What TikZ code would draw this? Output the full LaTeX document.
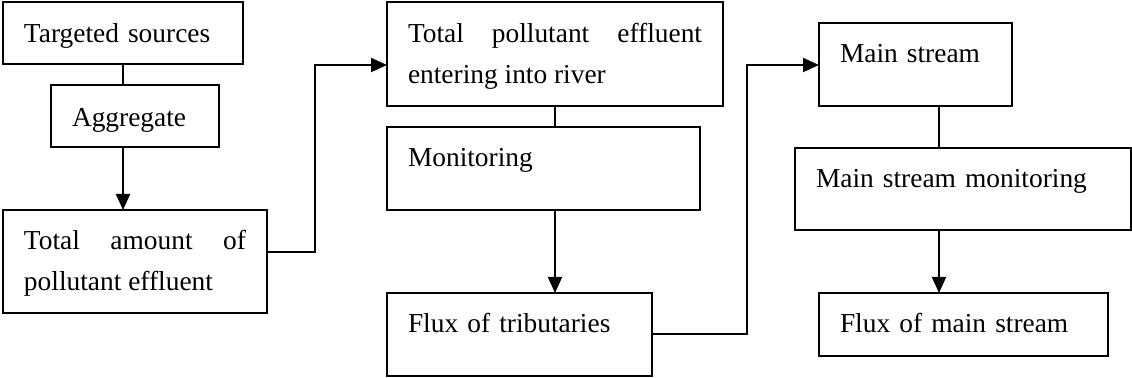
\documentclass[tikz,border=0pt]{standalone}
\usepackage{fontspec}
\setmainfont{Liberation Serif}
\usetikzlibrary{arrows.meta}
\newcommand\boxfont{\fontsize{13.7}{20.5}\selectfont\hyphenpenalty=10000\exhyphenpenalty=10000 }
\tikzset{
  box/.style={draw, line width=1pt, rectangle, anchor=north west, inner xsep=10.5pt, inner ysep=0pt, outer sep=0pt, font=\boxfont, align=left},
  jbox/.style={box, align=justify},
  ln/.style={line width=1pt},
  arr/.style={line width=1pt, -{Triangle[length=8pt,width=7pt]}}
}
\begin{document}
\begin{tikzpicture}[x=0.5pt,y=-0.5pt]
\useasboundingbox (0,0) rectangle (1132,378);
% column 1
\node[box, text width=99pt, minimum height=31pt, text height=10pt, text depth=0pt] (tsrc) at (3,2) {Targeted sources};
\node[box, text width=63pt, minimum height=31pt, text height=11pt, text depth=0pt] (agg) at (51,85) {Aggregate};
\node[jbox, text width=111pt, minimum height=51.5pt, text height=10pt, text depth=21.5pt] (tot) at (3,210) {Total amount of pollutant effluent};
% column 2
\node[jbox, text width=147pt, minimum height=52pt, text height=10pt, text depth=21pt] (tp) at (387,2) {Total pollutant effluent entering into river};
\node[box, text width=135.5pt, minimum height=41.5pt, text height=10pt, text depth=11.5pt] (mon) at (387,127) {Monitoring};
\node[box, text width=111.5pt, minimum height=41.5pt, text height=10pt, text depth=11.5pt] (ftr) at (387,293) {Flux of tributaries};
% column 3
\node[box, text width=75.5pt, minimum height=41.5pt, text height=10pt, text depth=11.5pt] (ms) at (819,23) {Main stream};
\node[box, text width=147pt, minimum height=41pt, text height=10pt, text depth=11pt] (msm) at (795,148) {Main stream monitoring};
\node[box, text width=123.5pt, minimum height=31.5pt, text height=10pt, text depth=1.5pt] (fms) at (819,293) {Flux of main stream};
% connectors
\coordinate (j1) at (315,252);
\coordinate (j2) at (315,65);
\coordinate (j3) at (747,334);
\coordinate (j4) at (747,65);
\coordinate (k1) at (939,0);
\draw[ln] (tsrc.south) -- (tsrc.south |- agg.north);
\draw[arr] (tsrc.south |- agg.south) -- (tsrc.south |- tot.north);
\draw[arr] (tot.east |- j1) -- (j1) -- (j2) -- (tp.west |- j2);
\draw[ln] (tp.south) -- (tp.south |- mon.north);
\draw[arr] (tp.south |- mon.south) -- (tp.south |- ftr.north);
\draw[arr] (ftr.east |- j3) -- (j3) -- (j4) -- (ms.west |- j4);
\draw[ln] (ms.south -| k1) -- (msm.north -| k1);
\draw[arr] (msm.south -| k1) -- (fms.north -| k1);
\end{tikzpicture}
\end{document}
